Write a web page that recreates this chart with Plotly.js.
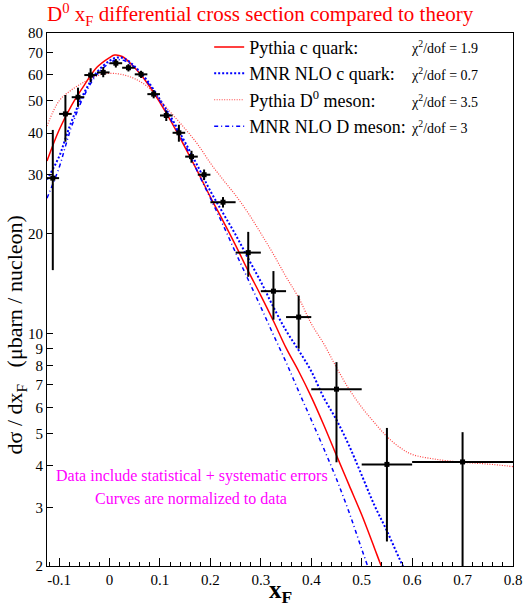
<!DOCTYPE html>
<html>
<head>
<meta charset="utf-8">
<script src="https://cdn.plot.ly/plotly-3.0.1.min.js"></script>
<style>html,body{margin:0;padding:0;background:#fff;}#chart{width:523px;height:607px;}</style>
</head>
<body>
<div id="chart"></div>
<script>
// ---- Data points (D0 xF differential cross section) ----
const dataX     = [-0.1125,-0.0875,-0.0625,-0.0375,-0.0125,0.0125,0.0375,0.0625,0.0875,0.1125,0.1375,0.1625,0.1875,0.225,0.275,0.325,0.375,0.45,0.55,0.70];
const dataY     = [29.3,45.7,51.3,59.8,60.9,64.9,62.9,60.1,52.4,45.2,40.1,34.0,30.0,24.8,17.5,13.4,11.2,6.8,4.04,4.11];
const dataErrUp = [11.6,6.4,3.5,2.9,2.3,1.9,1.6,1.5,1.5,1.6,2.3,1.4,1.1,0.9,2.7,2.0,1.8,1.4,1.16,0.94];
const dataErrDn = [13.8,8.0,3.3,2.9,2.0,1.9,1.6,1.5,1.5,1.7,2.4,1.4,1.1,0.9,2.7,2.4,2.2,2.7,1.67,2.3];
const dataXHalf = [0.0125,0.0125,0.0125,0.0125,0.0125,0.0125,0.0125,0.0125,0.0125,0.0125,0.0125,0.0125,0.0125,0.025,0.025,0.025,0.025,0.05,0.05,0.1];

// ---- Theory curves ----
const pyQx = [-0.124,-0.1,-0.075,-0.05,-0.025,0,0.01,0.025,0.05,0.075,0.1,0.125,0.15,0.175,0.2,0.225,0.25,0.275,0.3,0.325,0.35,0.375,0.4,0.425,0.45,0.475,0.5,0.525,0.54,0.56];
const pyQy = [33,40.9,48.6,55.8,63.1,67.5,68.7,68,62.9,56.5,49.4,42.6,36.2,30.6,25.7,21.8,18.4,15.4,13.0,10.9,9.05,7.7,6.45,5.3,4.3,3.5,2.85,2.27,1.98,1.7];

const mnrQx = [-0.124,-0.1,-0.0875,-0.075,-0.05,-0.025,0,0.015,0.03,0.05,0.075,0.1,0.125,0.15,0.175,0.2,0.225,0.25,0.275,0.3,0.325,0.35,0.375,0.4,0.425,0.45,0.475,0.5,0.525,0.55,0.575,0.6];
const mnrQy = [29,34,38.5,43.5,53,61,66,67.5,67,63.5,57.5,50.5,43.8,37.5,31.8,26.8,23,19.8,16.8,14.3,12,10.2,8.9,7.7,6.4,5.5,4.6,3.75,3.05,2.55,2.1,1.75];

const pyDx = [-0.124,-0.1,-0.075,-0.05,-0.025,0,0.025,0.05,0.075,0.1,0.125,0.15,0.175,0.2,0.225,0.25,0.275,0.3,0.325,0.35,0.375,0.4,0.425,0.45,0.475,0.5,0.525,0.55,0.575,0.6,0.65,0.7,0.75,0.8];
const pyDy = [42,50,54,57,59.5,60.5,60,58.3,55.2,50.2,45.5,41.2,37,32.5,29,26,23,20,17.3,14.8,12.8,10.7,9.3,7.9,6.8,6.0,5.4,4.9,4.55,4.33,4.18,4.1,4.05,3.98];

const mnrDx = [-0.124,-0.1,-0.0875,-0.075,-0.05,-0.025,0,0.015,0.03,0.05,0.075,0.1,0.125,0.15,0.175,0.2,0.225,0.25,0.275,0.3,0.325,0.35,0.375,0.4,0.425,0.45,0.475,0.5,0.525];
const mnrDy = [25.5,31.5,36.5,42,52,60,65,66.5,66,63,57,50,43,36.8,30.5,25.5,21.2,17.5,14.5,12.0,9.9,8.2,6.7,5.5,4.5,3.65,2.9,2.25,1.75];

const seriesNames = ["Pythia c quark:", "MNR NLO c quark:", "Pythia D<sup>0</sup> meson:", "MNR NLO D meson:"];
const chi2Labels  = ["1.9", "0.7", "3.5", "3"];

const xTickVals = [-0.1,0,0.1,0.2,0.3,0.4,0.5,0.6,0.7,0.8];
const xTickText = ["-0.1","0","0.1","0.2","0.3","0.4","0.5","0.6","0.7","0.8"];
const yTickVals = [2,3,4,5,6,7,8,9,10,20,30,40,50,60,70,80];
const yTickText = ["2","3","4","5","6","7","8","9","10","20","30","40","50","60","70","80"];

const FONT = "Liberation Serif";

const traces = [
  {x: pyQx, y: pyQy, name: seriesNames[0], mode: "lines", line: {color: "#ff0000", width: 1.5, shape: "spline"}, hoverinfo: "skip"},
  {x: mnrQx, y: mnrQy, name: seriesNames[1], mode: "lines", line: {color: "#0000ff", width: 2, dash: "2px,2px", shape: "spline"}, hoverinfo: "skip"},
  {x: pyDx, y: pyDy, name: seriesNames[2], mode: "lines", line: {color: "#ff2020", width: 1.2, dash: "1px,1.5px", shape: "spline"}, opacity: 0.85, hoverinfo: "skip"},
  {x: mnrDx, y: mnrDy, name: seriesNames[3], mode: "lines", line: {color: "#0000ff", width: 1.5, dash: "4px,3px,1px,3px", shape: "spline"}, hoverinfo: "skip"},
  {x: dataX, y: dataY, mode: "markers", showlegend: false,
   marker: {symbol: "square", size: 5, color: "#000"},
   error_x: {type: "data", array: dataXHalf, symmetric: true, color: "#000", thickness: 2, width: 0},
   error_y: {type: "data", array: dataErrUp, arrayminus: dataErrDn, symmetric: false, color: "#000", thickness: 2, width: 0}}
];

const chiY = [0.974, 0.923, 0.873, 0.824];
const annotations = chi2Labels.map((c, i) => ({
  xref: "paper", yref: "paper", x: 0.777, y: chiY[i], xanchor: "left", yanchor: "middle",
  text: "χ<sup>2</sup>/dof = " + c, showarrow: false, font: {family: FONT, size: 14, color: "#000"}
}));
annotations.push({xref: "paper", yref: "paper", x: 0.312, y: 0.168, xanchor: "center", yanchor: "middle",
  text: "Data include statistical + systematic errors", showarrow: false, font: {family: FONT, size: 16, color: "#ff00ff"}});
annotations.push({xref: "paper", yref: "paper", x: 0.310, y: 0.127, xanchor: "center", yanchor: "middle",
  text: "Curves are normalized to data", showarrow: false, font: {family: FONT, size: 16, color: "#ff00ff"}});
annotations.push({xref: "paper", yref: "paper", x: -0.066, y: 0.433, xanchor: "center", yanchor: "middle", textangle: -90,
  text: "dσ / dx<sub>F</sub>   (μbarn / nucleon)", showarrow: false, font: {family: FONT, size: 22, color: "#000"}});
annotations.push({xref: "paper", yref: "paper", x: 0.5, y: -0.047, xanchor: "center", yanchor: "middle",
  text: "<b>x<sub>F</sub></b>", showarrow: false, font: {family: FONT, size: 25, color: "#000"}});

const layout = {
  width: 523, height: 607,
  margin: {l: 47, r: 10, t: 33, b: 41},
  paper_bgcolor: "#fff", plot_bgcolor: "#fff",
  font: {family: FONT, size: 15, color: "#000"},
  title: {text: "D<sup>0</sup> x<sub>F</sub> differential cross section compared to theory",
          font: {family: FONT, size: 21, color: "#ff0000"}, x: 0, xanchor: "left", y: 0.977, yanchor: "middle", xref: "paper"},
  xaxis: {range: [-0.124, 0.8], tickvals: xTickVals, ticktext: xTickText, ticks: "inside", ticklen: 8, tickwidth: 1, tickcolor: "#000",
          minor: {dtick: 0.02, tick0: 0, ticks: "inside", ticklen: 4, tickcolor: "#000", showgrid: false},
          showline: true, linecolor: "#000", linewidth: 1, mirror: true, showgrid: false, zeroline: false,
          tickfont: {family: FONT, size: 15}},
  yaxis: {type: "log", range: [Math.log10(2), Math.log10(80)], tickvals: yTickVals, ticktext: yTickText,
          ticks: "inside", ticklen: 6, tickwidth: 1, tickcolor: "#000",
          showline: true, linecolor: "#000", linewidth: 1, mirror: true, showgrid: false, zeroline: false,
          tickfont: {family: FONT, size: 15}},
  showlegend: true,
  legend: {x: 0.348, y: 1.008, xanchor: "left", yanchor: "top", bgcolor: "rgba(0,0,0,0)", borderwidth: 0,
           font: {family: FONT, size: 18, color: "#000"}, tracegroupgap: 0},
  annotations: annotations
};

Plotly.newPlot("chart", traces, layout, {displayModeBar: false, staticPlot: true});
</script>
</body>
</html>
